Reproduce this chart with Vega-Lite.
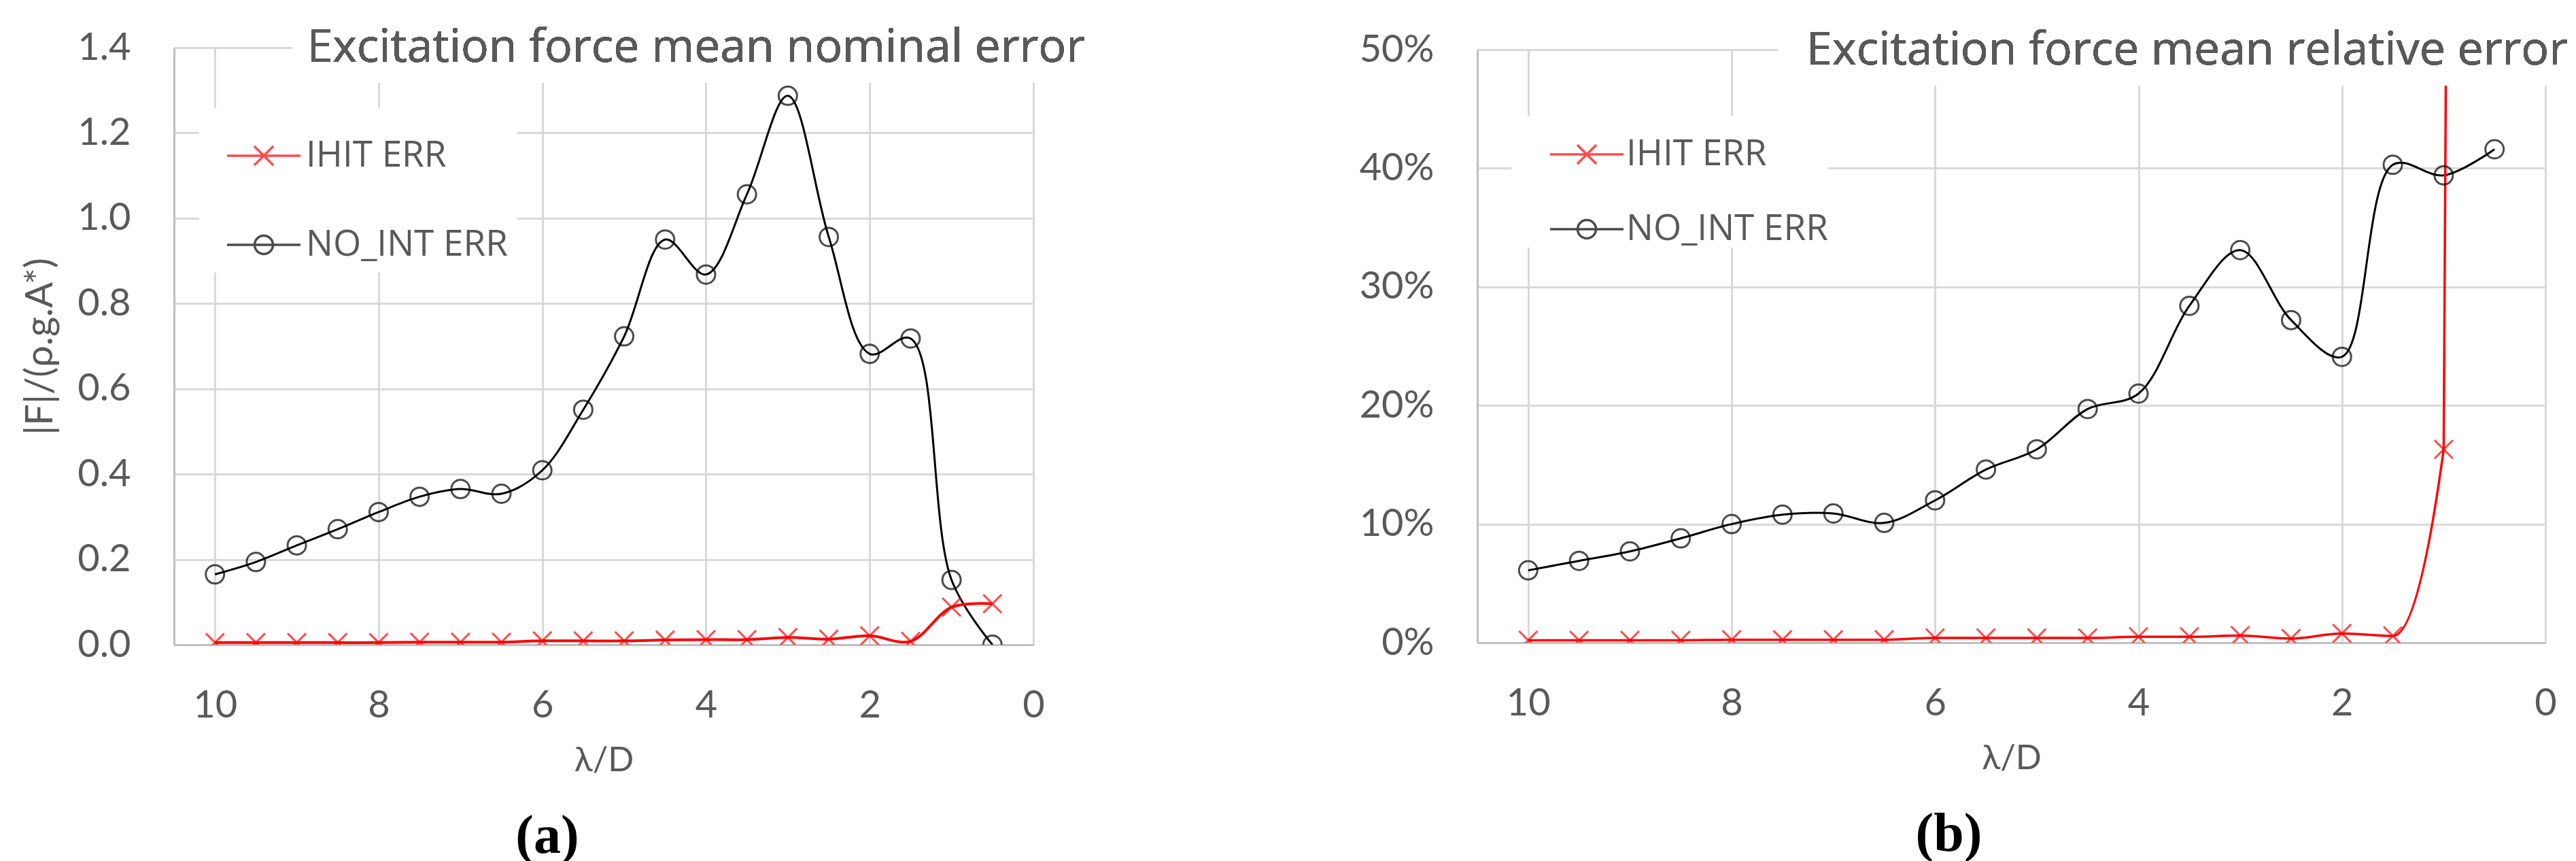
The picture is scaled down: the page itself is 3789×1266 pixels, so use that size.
{
  "$schema": "https://vega.github.io/schema/vega-lite/v6.json",
  "background": "white",
  "padding": {"left": 31, "top": 37, "right": 5, "bottom": 30},
  "datasets": {
    "a": [
      {"x": 10, "series": "IHIT ERR", "v": 0.005}, {"x": 9.5, "series": "IHIT ERR", "v": 0.005}, {"x": 9, "series": "IHIT ERR", "v": 0.005}, {"x": 8.5, "series": "IHIT ERR", "v": 0.005}, {"x": 8, "series": "IHIT ERR", "v": 0.005}, {"x": 7.5, "series": "IHIT ERR", "v": 0.006}, {"x": 7, "series": "IHIT ERR", "v": 0.006}, {"x": 6.5, "series": "IHIT ERR", "v": 0.006}, {"x": 6, "series": "IHIT ERR", "v": 0.009}, {"x": 5.5, "series": "IHIT ERR", "v": 0.009}, {"x": 5, "series": "IHIT ERR", "v": 0.009}, {"x": 4.5, "series": "IHIT ERR", "v": 0.011}, {"x": 4, "series": "IHIT ERR", "v": 0.012}, {"x": 3.5, "series": "IHIT ERR", "v": 0.012}, {"x": 3, "series": "IHIT ERR", "v": 0.017}, {"x": 2.5, "series": "IHIT ERR", "v": 0.013}, {"x": 2, "series": "IHIT ERR", "v": 0.021}, {"x": 1.5, "series": "IHIT ERR", "v": 0.008}, {"x": 1, "series": "IHIT ERR", "v": 0.088}, {"x": 0.5, "series": "IHIT ERR", "v": 0.096},
      {"x": 10, "series": "NO_INT ERR", "v": 0.165}, {"x": 9.5, "series": "NO_INT ERR", "v": 0.194}, {"x": 9, "series": "NO_INT ERR", "v": 0.233}, {"x": 8.5, "series": "NO_INT ERR", "v": 0.271}, {"x": 8, "series": "NO_INT ERR", "v": 0.311}, {"x": 7.5, "series": "NO_INT ERR", "v": 0.347}, {"x": 7, "series": "NO_INT ERR", "v": 0.365}, {"x": 6.5, "series": "NO_INT ERR", "v": 0.354}, {"x": 6, "series": "NO_INT ERR", "v": 0.409}, {"x": 5.5, "series": "NO_INT ERR", "v": 0.551}, {"x": 5, "series": "NO_INT ERR", "v": 0.723}, {"x": 4.5, "series": "NO_INT ERR", "v": 0.95}, {"x": 4, "series": "NO_INT ERR", "v": 0.868}, {"x": 3.5, "series": "NO_INT ERR", "v": 1.056}, {"x": 3, "series": "NO_INT ERR", "v": 1.287}, {"x": 2.5, "series": "NO_INT ERR", "v": 0.956}, {"x": 2, "series": "NO_INT ERR", "v": 0.682}, {"x": 1.5, "series": "NO_INT ERR", "v": 0.718}, {"x": 1, "series": "NO_INT ERR", "v": 0.152}, {"x": 0.5, "series": "NO_INT ERR", "v": 0.0}
    ],
    "b": [
      {"x": 10, "series": "IHIT ERR", "v": 0.002}, {"x": 9.5, "series": "IHIT ERR", "v": 0.002}, {"x": 9, "series": "IHIT ERR", "v": 0.002}, {"x": 8.5, "series": "IHIT ERR", "v": 0.002}, {"x": 8, "series": "IHIT ERR", "v": 0.0025}, {"x": 7.5, "series": "IHIT ERR", "v": 0.0025}, {"x": 7, "series": "IHIT ERR", "v": 0.0025}, {"x": 6.5, "series": "IHIT ERR", "v": 0.0025}, {"x": 6, "series": "IHIT ERR", "v": 0.004}, {"x": 5.5, "series": "IHIT ERR", "v": 0.004}, {"x": 5, "series": "IHIT ERR", "v": 0.004}, {"x": 4.5, "series": "IHIT ERR", "v": 0.004}, {"x": 4, "series": "IHIT ERR", "v": 0.005}, {"x": 3.5, "series": "IHIT ERR", "v": 0.005}, {"x": 3, "series": "IHIT ERR", "v": 0.006}, {"x": 2.5, "series": "IHIT ERR", "v": 0.0035}, {"x": 2, "series": "IHIT ERR", "v": 0.0078}, {"x": 1.5, "series": "IHIT ERR", "v": 0.0057}, {"x": 1, "series": "IHIT ERR", "v": 0.163}, {"x": 0.5, "series": "IHIT ERR", "v": 7.5},
      {"x": 10, "series": "NO_INT ERR", "v": 0.061}, {"x": 9.5, "series": "NO_INT ERR", "v": 0.069}, {"x": 9, "series": "NO_INT ERR", "v": 0.077}, {"x": 8.5, "series": "NO_INT ERR", "v": 0.088}, {"x": 8, "series": "NO_INT ERR", "v": 0.1}, {"x": 7.5, "series": "NO_INT ERR", "v": 0.108}, {"x": 7, "series": "NO_INT ERR", "v": 0.109}, {"x": 6.5, "series": "NO_INT ERR", "v": 0.101}, {"x": 6, "series": "NO_INT ERR", "v": 0.12}, {"x": 5.5, "series": "NO_INT ERR", "v": 0.146}, {"x": 5, "series": "NO_INT ERR", "v": 0.163}, {"x": 4.5, "series": "NO_INT ERR", "v": 0.197}, {"x": 4, "series": "NO_INT ERR", "v": 0.21}, {"x": 3.5, "series": "NO_INT ERR", "v": 0.284}, {"x": 3, "series": "NO_INT ERR", "v": 0.331}, {"x": 2.5, "series": "NO_INT ERR", "v": 0.272}, {"x": 2, "series": "NO_INT ERR", "v": 0.241}, {"x": 1.5, "series": "NO_INT ERR", "v": 0.403}, {"x": 1, "series": "NO_INT ERR", "v": 0.394}, {"x": 0.5, "series": "NO_INT ERR", "v": 0.416}
    ]
  },
  "hconcat": [
    {
      "width": 1264,
      "height": 878,
      "title": {"text": "(a)", "orient": "bottom", "anchor": "middle", "dx": -83, "offset": 48, "font": "Liberation Serif", "fontSize": 80, "fontWeight": "bold", "color": "#000000"},
      "data": {"name": "a"},
      "encoding": {
        "x": {"field": "x", "type": "quantitative", "title": "λ/D", "scale": {"domain": [0, 10.5], "reverse": true, "nice": false, "zero": false}, "axis": {"values": [0, 2, 4, 6, 8, 10], "title": "λ/D"}},
        "y": {"field": "v", "type": "quantitative", "title": "|F|/(ρ.g.A*)", "scale": {"domain": [0, 1.4], "nice": false}, "axis": {"values": [0, 0.2, 0.4, 0.6, 0.8, 1.0, 1.2, 1.4], "format": ".1f", "title": "|F|/(ρ.g.A*)"}}
      },
      "layer": [
        {
          "transform": [{"filter": "datum.series === 'NO_INT ERR'"}],
          "mark": {"type": "line", "interpolate": "catmull-rom", "clip": true, "color": "#000000", "strokeWidth": 3}
        },
        {
          "transform": [{"filter": "datum.series === 'IHIT ERR'"}],
          "mark": {"type": "line", "interpolate": "catmull-rom", "clip": true, "color": "#ff0000", "strokeWidth": 4}
        },
        {
          "transform": [{"filter": "datum.series === 'NO_INT ERR'"}],
          "mark": {"type": "point", "filled": false, "clip": true, "size": 729, "strokeWidth": 3, "color": "#000000", "shape": "M-1,0A1,1,0,1,0,1,0A1,1,0,1,0,-1,0"}
        },
        {
          "transform": [{"filter": "datum.series === 'IHIT ERR'"}],
          "mark": {"type": "point", "filled": false, "clip": true, "size": 729, "strokeWidth": 3, "color": "#ff0000", "shape": "M-1,-1L1,1M-1,1L1,-1"}
        },
        {
          "mark": {"type": "rect", "color": "white", "clip": false},
          "encoding": {
            "x": {"datum": 9.05, "type": "quantitative"}, "x2": {"datum": -0.06},
            "y": {"datum": 1.317, "type": "quantitative"}, "y2": {"datum": 1.406}
          }
        },
        {
          "mark": {"type": "text", "align": "right", "baseline": "middle", "font": "Open Sans", "fontSize": 68, "color": "#595959", "dx": 76, "dy": 1, "clip": false},
          "encoding": {
            "x": {"datum": 0, "type": "quantitative"},
            "y": {"datum": 1.4, "type": "quantitative"},
            "text": {"value": "Excitation force mean nominal error"}
          }
        },
        {
          "transform": [{"filter": "false"}],
          "mark": {"type": "point", "filled": false, "strokeWidth": 3.5},
          "encoding": {
            "shape": {
              "field": "series", "type": "nominal",
              "scale": {"domain": ["IHIT ERR", "NO_INT ERR"], "range": ["M-1,0L1,0M-0.26,-0.26L0.26,0.26M-0.26,0.26L0.26,-0.26", "M-1,0L1,0M-0.25,0A0.25,0.25,0,1,0,0.25,0A0.25,0.25,0,1,0,-0.25,0"]},
              "legend": {"title": null, "orient": "none", "legendX": 37, "legendY": 89, "fillColor": "white", "padding": 14, "symbolOffset": 25, "symbolSize": 11664, "symbolStrokeWidth": 3.5, "labelOffset": 6, "rowPadding": 48, "labelFont": "Open Sans", "labelFontSize": 53, "labelColor": "#595959", "labelLimit": 1000}
            },
            "stroke": {
              "field": "series", "type": "nominal",
              "scale": {"domain": ["IHIT ERR", "NO_INT ERR"], "range": ["#ff0000", "#000000"]},
              "legend": {"title": null, "orient": "none", "legendX": 37, "legendY": 89, "fillColor": "white", "padding": 14, "symbolOffset": 25, "symbolSize": 11664, "symbolStrokeWidth": 3.5, "labelOffset": 6, "rowPadding": 48, "labelFont": "Open Sans", "labelFontSize": 53, "labelColor": "#595959", "labelLimit": 1000}
            }
          }
        }
      ]
    },
    {
      "width": 1571,
      "height": 872,
      "title": {"text": "(b)", "orient": "bottom", "anchor": "middle", "dx": -92, "offset": 48, "font": "Liberation Serif", "fontSize": 80, "fontWeight": "bold", "color": "#000000"},
      "data": {"name": "b"},
      "encoding": {
        "x": {"field": "x", "type": "quantitative", "title": "λ/D", "scale": {"domain": [0, 10.5], "reverse": true, "nice": false, "zero": false}, "axis": {"values": [0, 2, 4, 6, 8, 10], "title": "λ/D"}},
        "y": {"field": "v", "type": "quantitative", "title": null, "scale": {"domain": [0, 0.5], "nice": false}, "axis": {"values": [0, 0.1, 0.2, 0.3, 0.4, 0.5], "format": ".0%", "title": null}}
      },
      "layer": [
        {
          "transform": [{"filter": "datum.series === 'NO_INT ERR'"}],
          "mark": {"type": "line", "interpolate": "catmull-rom", "clip": true, "color": "#000000", "strokeWidth": 3}
        },
        {
          "transform": [{"filter": "datum.series === 'IHIT ERR'"}],
          "mark": {"type": "line", "interpolate": "monotone", "clip": true, "color": "#ff0000", "strokeWidth": 3.5}
        },
        {
          "transform": [{"filter": "datum.series === 'NO_INT ERR'"}],
          "mark": {"type": "point", "filled": false, "clip": true, "size": 729, "strokeWidth": 3, "color": "#000000", "shape": "M-1,0A1,1,0,1,0,1,0A1,1,0,1,0,-1,0"}
        },
        {
          "transform": [{"filter": "datum.series === 'IHIT ERR'"}],
          "mark": {"type": "point", "filled": false, "clip": true, "size": 729, "strokeWidth": 3, "color": "#ff0000", "shape": "M-1,-1L1,1M-1,1L1,-1"}
        },
        {
          "mark": {"type": "rect", "color": "white", "clip": false},
          "encoding": {
            "x": {"datum": 7.54, "type": "quantitative"}, "x2": {"datum": -0.05},
            "y": {"datum": 0.47, "type": "quantitative"}, "y2": {"datum": 0.502}
          }
        },
        {
          "mark": {"type": "text", "align": "right", "baseline": "middle", "font": "Open Sans", "fontSize": 68, "color": "#595959", "dx": 33, "dy": 2, "clip": false},
          "encoding": {
            "x": {"datum": 0, "type": "quantitative"},
            "y": {"datum": 0.5, "type": "quantitative"},
            "text": {"value": "Excitation force mean relative error"}
          }
        },
        {
          "transform": [{"filter": "false"}],
          "mark": {"type": "point", "filled": false, "strokeWidth": 3.5},
          "encoding": {
            "shape": {
              "field": "series", "type": "nominal",
              "scale": {"domain": ["IHIT ERR", "NO_INT ERR"], "range": ["M-1,0L1,0M-0.26,-0.26L0.26,0.26M-0.26,0.26L0.26,-0.26", "M-1,0L1,0M-0.25,0A0.25,0.25,0,1,0,0.25,0A0.25,0.25,0,1,0,-0.25,0"]},
              "legend": {"title": null, "orient": "none", "legendX": 50, "legendY": 98, "fillColor": "white", "padding": 0, "symbolOffset": 55, "symbolSize": 11664, "symbolStrokeWidth": 3.5, "labelOffset": 2, "rowPadding": 27, "labelFont": "Open Sans", "labelFontSize": 53, "labelColor": "#595959", "labelLimit": 1000}
            },
            "stroke": {
              "field": "series", "type": "nominal",
              "scale": {"domain": ["IHIT ERR", "NO_INT ERR"], "range": ["#ff0000", "#000000"]},
              "legend": {"title": null, "orient": "none", "legendX": 50, "legendY": 98, "fillColor": "white", "padding": 0, "symbolOffset": 55, "symbolSize": 11664, "symbolStrokeWidth": 3.5, "labelOffset": 2, "rowPadding": 27, "labelFont": "Open Sans", "labelFontSize": 53, "labelColor": "#595959", "labelLimit": 1000}
            }
          }
        }
      ]
    }
  ],
  "resolve": {
    "scale": {"shape": "independent", "stroke": "independent"},
    "legend": {"shape": "independent", "stroke": "independent"}
  },
  "spacing": 653,
  "bounds": "flush",
  "center": true,
  "config": {
    "view": {"stroke": null},
    "font": "Lato",
    "axis": {
      "labelFont": "Lato", "labelFontSize": 56, "labelColor": "#595959", "labelFlush": false, "labelOverlap": false,
      "titleFont": "Lato", "titleColor": "#595959", "titleFontWeight": "normal",
      "grid": true, "gridColor": "#d9d9d9", "gridWidth": 3,
      "domainColor": "#bfbfbf", "domainWidth": 3, "ticks": false, "tickSize": 0
    },
    "axisX": {"labelPadding": 62, "titleFontSize": 50, "titlePadding": 28},
    "axisY": {"labelPadding": 64, "titleFontSize": 56, "titlePadding": 25}
  }
}
